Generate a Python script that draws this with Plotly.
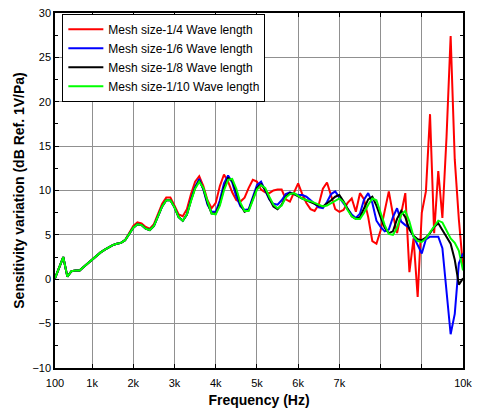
import plotly.graph_objects as go

freq = list(range(100, 10001, 100))

mesh_1_10 = [0.1, 1.3, 2.5, 0.3, 0.9, 1.0, 1.0, 1.4, 1.8, 2.3,
             2.6, 3.0, 3.3, 3.6, 3.85, 4.0, 4.1, 4.4, 5.1, 5.8,
             6.2, 6.1, 5.7, 5.55, 6.0, 7.0, 8.2, 8.9, 8.9, 8.1,
             7.0, 6.6, 7.3, 8.8, 10.2, 11.0, 10.3, 8.8, 7.4, 7.3,
             8.3, 10.0, 11.2, 11.3, 10.2, 8.6, 7.7, 7.7, 8.8, 10.1,
             10.6, 10.3, 9.3, 8.4, 8.0, 8.3, 9.2, 9.6, 9.7, 9.4,
             9.1, 8.9, 8.8, 8.6, 8.4, 8.2, 8.3, 8.6, 8.9, 9.1,
             8.7, 7.8, 7.1, 6.8, 6.8, 7.5, 8.4, 9.1, 8.9, 7.6,
             6.1, 5.1, 5.0, 5.8, 7.3, 7.7, 6.5, 4.8, 4.3, 4.2,
             4.6, 5.3, 6.0, 6.6, 6.4, 5.4, 4.6, 4.1, 3.2, 1.0]

mesh_1_8 = [0.1, 1.3, 2.5, 0.3, 0.9, 1.0, 1.0, 1.4, 1.8, 2.3,
            2.6, 3.0, 3.3, 3.6, 3.85, 4.0, 4.1, 4.4, 5.1, 5.8,
            6.2, 6.1, 5.7, 5.55, 6.0, 7.0, 8.2, 8.9, 8.9, 8.1,
            7.0, 6.6, 7.3, 8.9, 10.3, 11.1, 10.2, 8.6, 7.4, 7.4,
            8.5, 10.3, 11.4, 11.1, 9.9, 8.4, 7.6, 7.8, 9.0, 10.3,
            10.7, 10.1, 9.1, 8.2, 7.9, 8.4, 9.3, 9.7, 9.6, 9.3,
            9.1, 8.9, 8.7, 8.5, 8.3, 8.2, 8.5, 8.9, 9.3, 9.5,
            8.8, 7.9, 7.1, 6.8, 7.0, 8.0, 9.0, 9.3, 8.3, 7.0,
            5.8, 5.2, 5.4, 6.8, 7.7, 7.0, 5.6, 4.9, 4.5, 4.4,
            4.7, 5.2, 5.9, 6.3, 5.5, 4.8, 4.0, 2.2, -0.6, 0.1]

mesh_1_6 = [0.1, 1.3, 2.5, 0.3, 0.9, 1.0, 1.0, 1.4, 1.8, 2.3,
            2.6, 3.0, 3.3, 3.6, 3.85, 4.0, 4.1, 4.4, 5.1, 5.8,
            6.2, 6.1, 5.7, 5.55, 6.0, 7.0, 8.2, 8.9, 8.9, 8.1,
            7.0, 6.6, 7.3, 9.0, 10.4, 11.3, 10.1, 8.4, 7.6, 7.6,
            8.9, 10.8, 11.7, 10.9, 9.3, 8.2, 7.8, 7.9, 9.3, 10.6,
            11.0, 10.0, 9.0, 8.5, 8.4, 8.9, 9.6, 9.8, 9.6, 9.5,
            9.5, 9.3, 8.9, 8.5, 8.1, 8.0, 8.7, 9.6, 9.9, 9.2,
            8.6, 7.9, 7.3, 6.9, 7.4, 9.0, 9.7, 8.6, 6.6, 5.9,
            5.4, 5.6, 7.0, 8.0, 6.5, 6.1, 5.8, 4.8, 3.8, 2.9,
            4.5, 4.8, 4.8, 4.8, 3.5, -1.5, -6.2, -3.9, 1.8, 2.9]

mesh_1_4 = [0.1, 1.3, 2.5, 0.3, 0.9, 1.0, 1.0, 1.4, 1.8, 2.3,
            2.6, 3.0, 3.3, 3.6, 3.85, 4.0, 4.1, 4.4, 5.2, 6.0,
            6.4, 6.3, 5.9, 5.7, 6.2, 7.3, 8.5, 9.2, 9.2, 8.3,
            7.3, 7.1, 7.9, 9.6, 11.0, 11.6, 10.5, 8.9, 8.0, 8.6,
            10.5, 11.8, 11.0, 9.8, 8.9, 8.75, 9.2, 10.3, 11.2, 11.0,
            10.1, 9.8, 9.7, 10.0, 10.1, 10.1, 9.0, 8.75, 9.8, 10.8,
            9.6, 8.6, 7.9, 7.7, 8.4, 10.2, 10.9, 9.3, 7.9, 7.6,
            7.8, 8.6, 9.1, 7.6, 9.7, 9.0, 7.0, 4.3, 4.0, 5.5,
            7.8, 9.9, 7.3, 5.2, 7.4, 9.7, 0.8, 4.6, -2.0, 7.5,
            9.9, 18.6, 5.2, 12.2, 6.9, 16.0, 27.4, 13.5, 6.7, 1.4]

x_tickvals = [100, 1000, 2000, 3000, 4000, 5000, 6000, 7000, 8000, 9000, 10000]
x_ticktext = ["100", "1k", "2k", "3k", "4k", "5k", "6k", "7k", "", "", "10k"]

series = [
    ("Mesh size-1/4 Wave length", mesh_1_4, "#ff0000"),
    ("Mesh size-1/6 Wave length", mesh_1_6, "#0000ff"),
    ("Mesh size-1/8 Wave length", mesh_1_8, "#000000"),
    ("Mesh size-1/10 Wave length", mesh_1_10, "#00ff00"),
]

FONT = "Liberation Sans, Arial, sans-serif"

fig = go.Figure()
for name, vals, color in series:
    fig.add_trace(go.Scatter(x=freq, y=vals, mode="lines", name=name,
                             line=dict(color=color, width=2)))

# page body has an 8px default margin, so the figure is sized to fit inside it
fig.update_layout(
    width=473, height=405,
    margin=dict(l=47, r=18, t=5, b=45, autoexpand=False),
    paper_bgcolor="white", plot_bgcolor="white",
    font=dict(family=FONT, size=11, color="black"),
    showlegend=True,
    legend=dict(x=0.018, y=0.998, xanchor="left", yanchor="top",
                bgcolor="white", bordercolor="black", borderwidth=1,
                font=dict(family=FONT, size=12, color="black"),
                itemwidth=35, tracegroupgap=0),
)

fig.update_xaxes(
    range=[100, 10000], tickmode="array", tickvals=x_tickvals, ticktext=x_ticktext,
    automargin=False, ticklabeloverflow="allow",
    showgrid=True, gridcolor="#909090", gridwidth=1,
    ticks="inside", ticklen=4, tickcolor="black",
    showline=True, linecolor="black", linewidth=1.5, mirror="ticks",
    zeroline=False, ticklabelstandoff=4,
    tickfont=dict(family=FONT, size=11, color="black"),
    title=dict(text="<b>Frequency (Hz)</b>", font=dict(family=FONT, size=14, color="black"), standoff=7),
)
fig.update_yaxes(
    range=[-10, 30], dtick=5, tick0=-10,
    automargin=False, ticklabeloverflow="allow",
    showgrid=True, gridcolor="#909090", gridwidth=1,
    ticks="inside", ticklen=4, tickcolor="black",
    minor=dict(dtick=2.5, ticks="inside", ticklen=3, tickcolor="black", showgrid=False),
    showline=True, linecolor="black", linewidth=1.5, mirror="ticks",
    zeroline=False,
    tickfont=dict(family=FONT, size=11, color="black"),
    title=dict(text="<b>Sensitivity variation (dB Ref. 1V/Pa)</b>", font=dict(family=FONT, size=14, color="black"), standoff=4),
)

fig.write_html("out.html")
